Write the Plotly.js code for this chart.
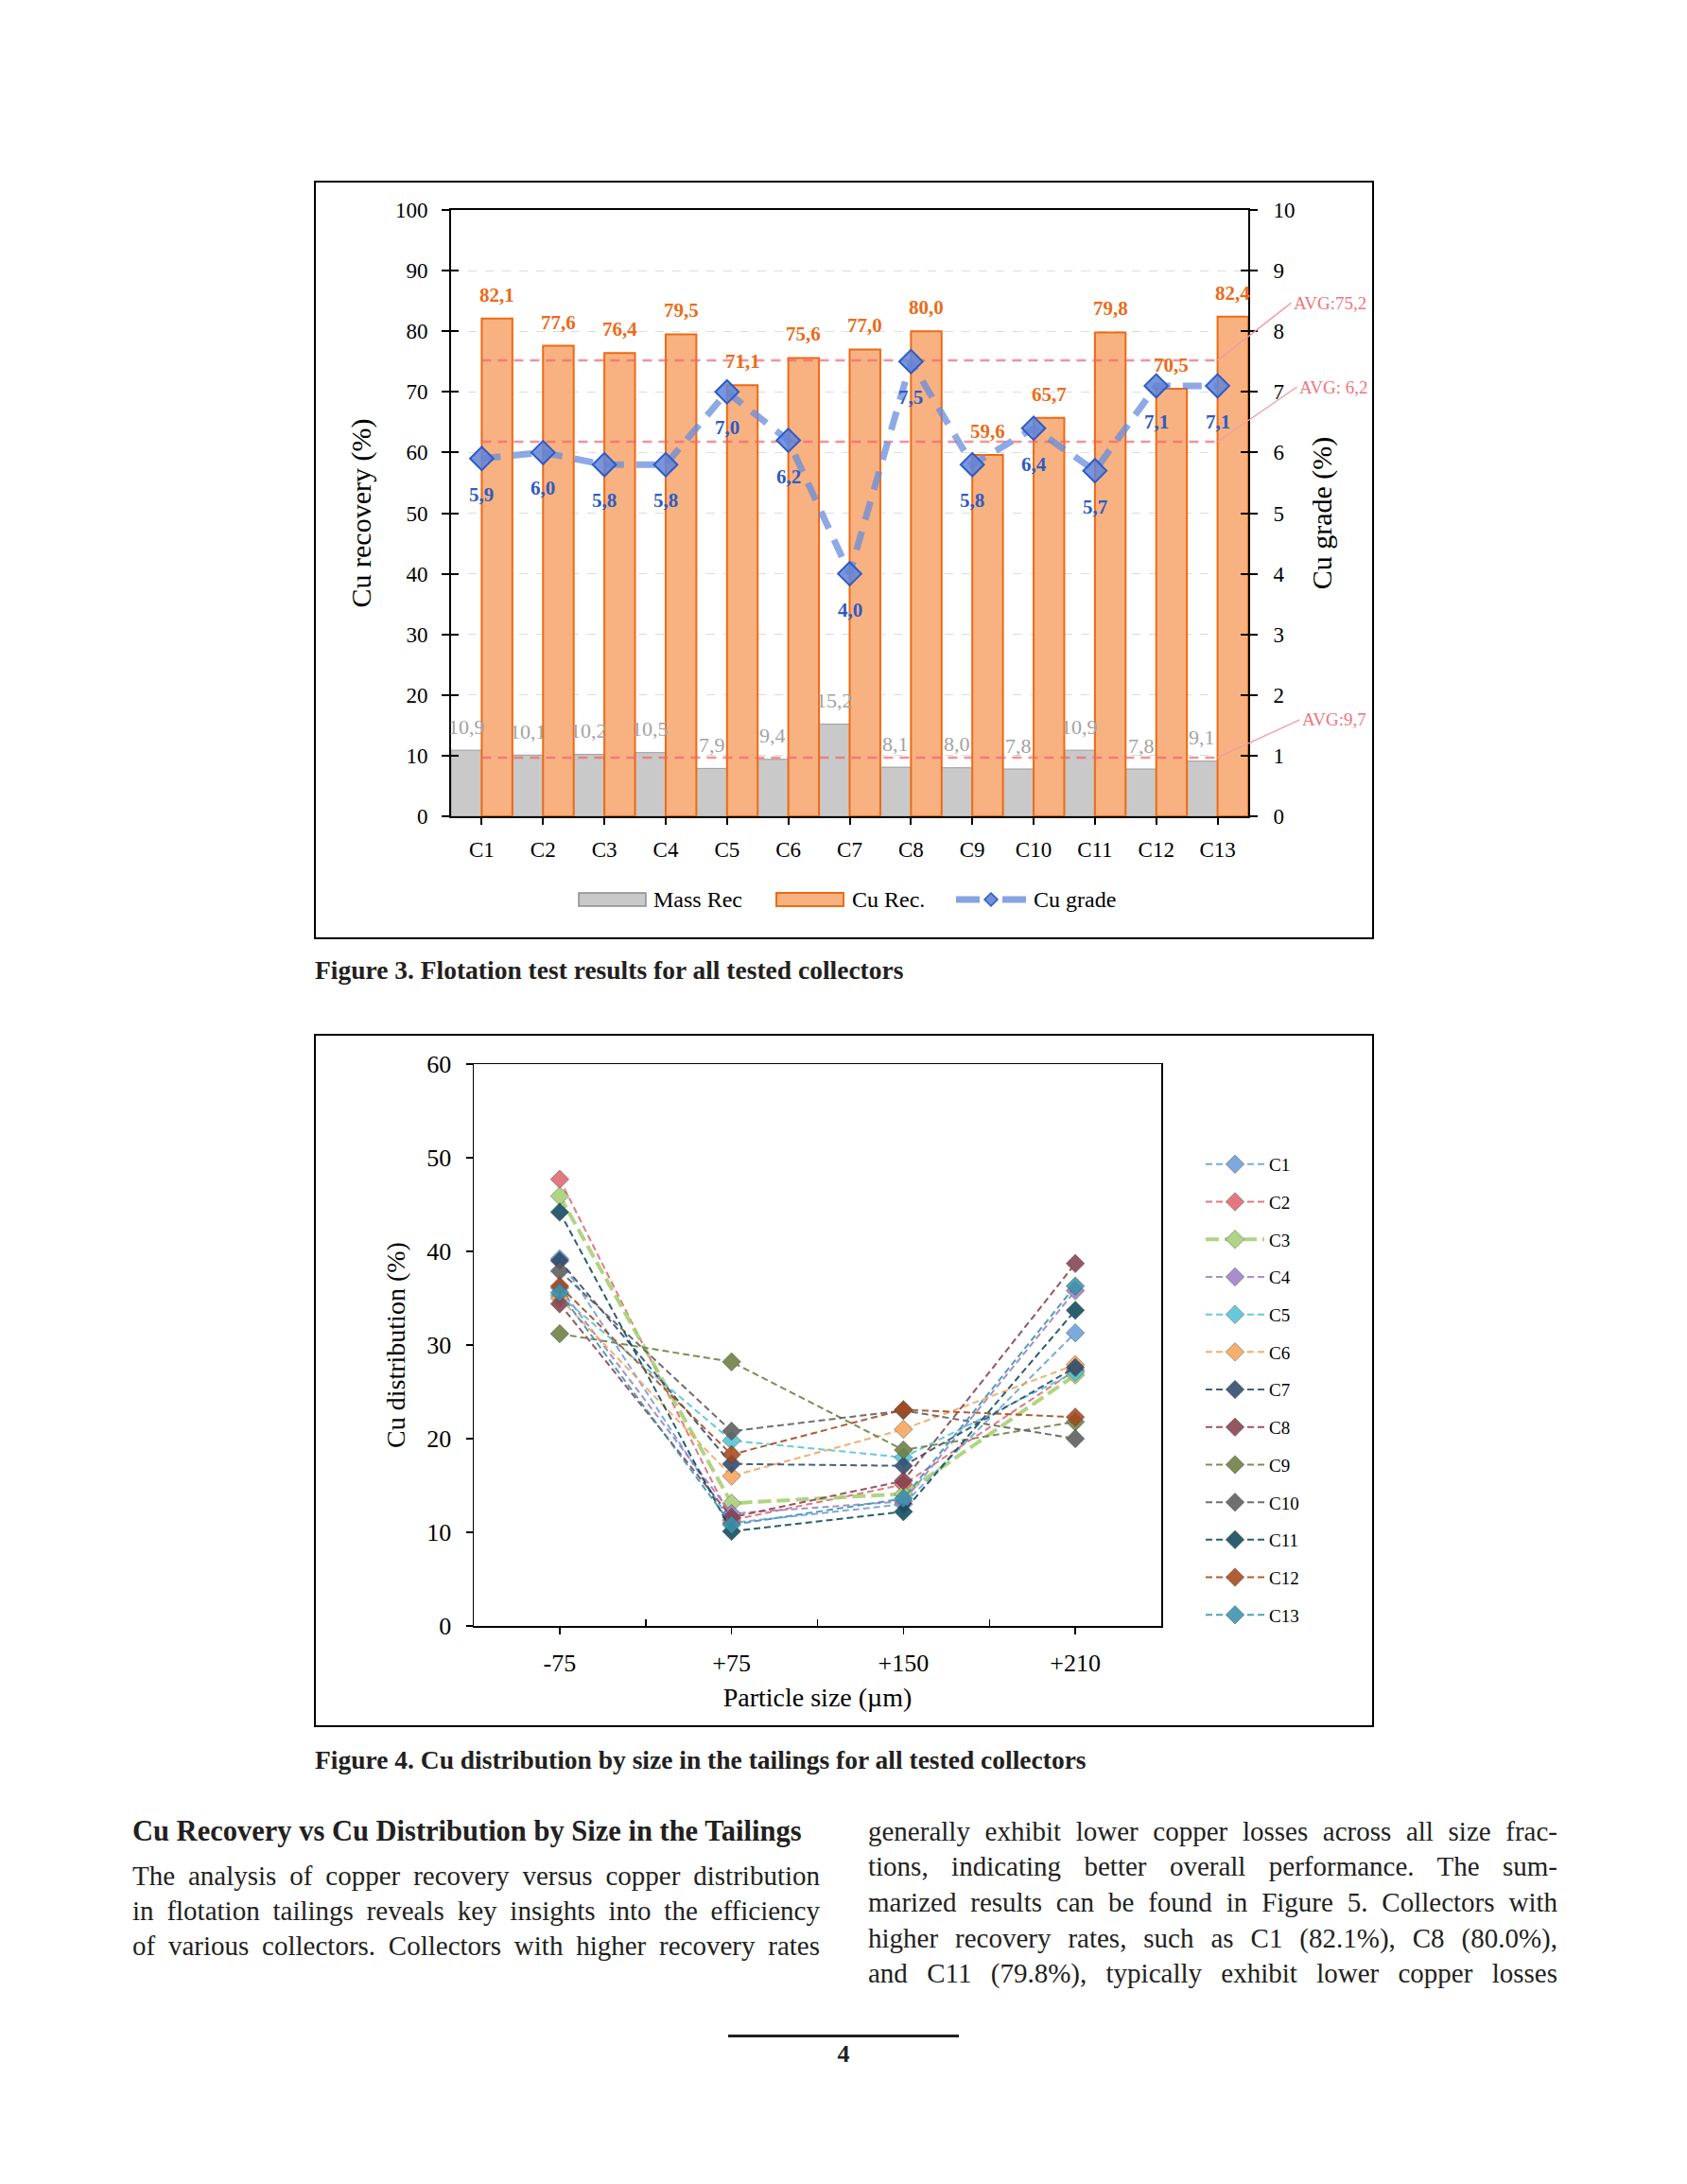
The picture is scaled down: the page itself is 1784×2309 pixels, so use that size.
<!DOCTYPE html>
<html><head><meta charset="utf-8">
<script src="https://cdn.plot.ly/plotly-3.0.1.min.js"></script>
<style>
html,body{margin:0;padding:0;background:#fff;}
#page{position:relative;width:1784px;height:2309px;overflow:hidden;background:#fff;}
#chart{position:absolute;left:0;top:0;width:1784px;height:2309px;}
.t{position:absolute;font-family:'Liberation Serif','Times New Roman',serif;color:#231f20;white-space:nowrap;}
.cap{font-weight:bold;font-size:27.5px;line-height:32px;}
.head{font-weight:bold;font-size:30.5px;line-height:36px;}
.body{font-size:29px;line-height:34px;text-align:justify;text-align-last:justify;white-space:normal;}
</style></head>
<body><div id="page"><div id="chart"></div>
<div class="t cap" style="left:333px;top:1010px;">Figure 3. Flotation test results for all tested collectors</div>
<div class="t cap" style="left:333px;top:1845px;">Figure 4. Cu distribution by size in the tailings for all tested collectors</div>
<div class="t head" style="left:140px;top:1918px;">Cu Recovery vs Cu Distribution by Size in the Tailings</div>
<div class="t body" style="left:140px;top:1966px;width:727px;">The analysis of copper recovery versus copper distribution</div>
<div class="t body" style="left:140px;top:2003px;width:727px;">in flotation tailings reveals key insights into the efficiency</div>
<div class="t body" style="left:140px;top:2040px;width:727px;">of various collectors. Collectors with higher recovery rates</div>
<div class="t body" style="left:918px;top:1919px;width:729px;">generally exhibit lower copper losses across all size frac-</div>
<div class="t body" style="left:918px;top:1956px;width:729px;">tions, indicating better overall performance. The sum-</div>
<div class="t body" style="left:918px;top:1994px;width:729px;">marized results can be found in Figure 5. Collectors with</div>
<div class="t body" style="left:918px;top:2032px;width:729px;">higher recovery rates, such as C1 (82.1%), C8 (80.0%),</div>
<div class="t body" style="left:918px;top:2069px;width:729px;">and C11 (79.8%), typically exhibit lower copper losses</div>
<div style="position:absolute;left:770px;top:2151px;width:244px;height:3px;background:#231f20;"></div>
<div class="t" style="left:842px;top:2157px;width:100px;text-align:center;font-weight:bold;font-size:26px;line-height:30px;">4</div>
</div>
<script>
// ---------- Figure 3 data ----------
const collectors = ['C1','C2','C3','C4','C5','C6','C7','C8','C9','C10','C11','C12','C13'];
const massRec = [10.9,10.1,10.2,10.5,7.9,9.4,15.2,8.1,8.0,7.8,10.9,7.8,9.1];
const cuRec   = [82.1,77.6,76.4,79.5,71.1,75.6,77.0,80.0,59.6,65.7,79.8,70.5,82.4];
const cuGrade = [5.9,6.0,5.8,5.8,7.0,6.2,4.0,7.5,5.8,6.4,5.7,7.1,7.1];
const recoveryTicks = [0,10,20,30,40,50,60,70,80,90,100];
const gradeTicks = [0,1,2,3,4,5,6,7,8,9,10];

// ---------- Figure 4 data ----------
const sizeFractions = ['-75','+75','+150','+210'];
const distC1  = [39.2, 11.0, 13.0, 31.3];
const distC2  = [47.7, 11.3, 15.1, 27.3];
const distC3  = [45.9, 13.1, 14.1, 26.8];
const distC4  = [36.1, 12.0, 13.3, 35.8];
const distC5  = [35.3, 19.8, 18.0, 27.1];
const distC6  = [35.0, 16.0, 21.0, 27.9];
const distC7  = [39.0, 17.3, 17.1, 27.6];
const distC8  = [34.4, 11.6, 15.5, 38.7];
const distC9  = [31.2, 28.2, 18.8, 21.8];
const distC10 = [37.9, 20.8, 23.0, 20.0];
const distC11 = [44.2, 10.1, 12.2, 33.7];
const distC12 = [36.3, 18.3, 23.1, 22.3];
const distC13 = [35.6, 10.8, 13.6, 36.3];
const distTicks = [0,10,20,30,40,50,60];

const distSeries = [distC1,distC2,distC3,distC4,distC5,distC6,distC7,distC8,distC9,distC10,distC11,distC12,distC13];
const distColors = ['#6A9FD8','#E0666F','#A6CF73','#9A80C6','#55C2D6','#F6A45C','#2D4A6E','#86404F','#6D7E40','#5C5C5C','#0E4A5C','#A4481B','#3A92AD'];

// ---------- geometry helpers ----------
const W = 1784, H = 2309;
const PX = x => x / W, PY = y => 1 - y / H;
const FONT = "'Liberation Serif','Times New Roman',serif";
const F1 = {l:477, r:1320, t:222, b:863};
const F2 = {l:501, r:1228, t:1125, b:1719};
const fmt = v => v.toFixed(1).replace('.', ',');
const mean = a => a.reduce((s, v) => s + v, 0) / a.length;
const halfBar = (F1.r - F1.l) / collectors.length / 4;

const avgRec = mean(cuRec), avgMass = mean(massRec), avgGrade = mean(cuGrade);
const lastCat = collectors[collectors.length - 1];

// ---------- traces ----------
const traces = [];
traces.push({type:'bar', x:collectors, y:massRec, name:'Mass Rec', xaxis:'x', yaxis:'y',
  marker:{color:'#C9C9C9', line:{color:'#9C9C9C', width:1}}, showlegend:false});
traces.push({type:'bar', x:collectors, y:cuRec, name:'Cu Rec.', xaxis:'x', yaxis:'y',
  marker:{color:'#F8B281', line:{color:'#EE6A14', width:2}}, showlegend:false});
const avgLine = (v, ax) => ({type:'scatter', mode:'lines', x:[collectors[0], lastCat], y:[v, v],
  xaxis:'x', yaxis:ax, line:{color:'rgba(241,100,108,0.7)', width:2.5, dash:'10px,7px'},
  showlegend:false});
traces.push(avgLine(avgRec, 'y'));
traces.push(avgLine(avgMass, 'y'));
traces.push(avgLine(avgGrade, 'y2'));
traces.push({type:'scatter', mode:'lines+markers', x:collectors, y:cuGrade, name:'Cu grade',
  xaxis:'x', yaxis:'y2', showlegend:false,
  line:{color:'rgba(104,140,220,0.75)', width:7, dash:'20px,13px'},
  marker:{symbol:'diamond', size:19, color:'rgba(98,132,214,0.85)', line:{color:'#2C5BC8', width:2}}});
traces.push({type:'scatter', x:[], y:[], xaxis:'x', yaxis:'y3', showlegend:false});
traces.push({type:'scatter', x:[], y:[], xaxis:'x', yaxis:'y4', showlegend:false});

collectors.forEach((name, i) => {
  const thick = (i === 2);
  traces.push({type:'scatter', mode:'lines+markers', name:name,
    x: sizeFractions.map((_, k) => k), y: distSeries[i],
    xaxis:'x2', yaxis:'y5', legendgroup:'g' + i, opacity:0.88,
    line:{color:distColors[i], width: thick ? 4 : 2, dash: thick ? '14px,6px' : '7px,4px'},
    marker:{symbol:'diamond', size:15, color:distColors[i], line:{color:'rgba(60,60,60,0.5)', width:1}}});
});

// ---------- annotations ----------
const ann = [];
collectors.forEach((c, i) => {
  ann.push({x:c, y:cuRec[i], xref:'x', yref:'y', xshift:halfBar, yshift:25, showarrow:false,
    text:'<b>' + fmt(cuRec[i]) + '</b>', font:{family:FONT, size:21, color:'#EA6C1A'}});
  ann.push({x:c, y:massRec[i], xref:'x', yref:'y', xshift:-halfBar, yshift:25, showarrow:false,
    text:fmt(massRec[i]), font:{family:FONT, size:22, color:'#A3A3A3'}});
  ann.push({x:c, y:cuGrade[i], xref:'x', yref:'y2', yshift:-38, showarrow:false,
    text:'<b>' + fmt(cuGrade[i]) + '</b>', font:{family:FONT, size:21, color:'#2E5CC2'}});
});
const avgAnn = (v, ax, label, dx, dy) => ({x:lastCat, y:v, xref:'x', yref:ax, showarrow:true,
  arrowhead:0, arrowwidth:1.3, arrowcolor:'#F49AA2', ax:dx, ay:dy, xanchor:'left', yanchor:'middle',
  text:label, font:{family:FONT, size:19, color:'#EE7680'}});
ann.push(avgAnn(avgRec, 'y', 'AVG:' + fmt(avgRec), 78, -61));
ann.push(avgAnn(avgGrade, 'y2', 'AVG: ' + fmt(avgGrade), 84, -58));
ann.push(avgAnn(avgMass, 'y', 'AVG:' + fmt(avgMass), 87, -40));

// custom legend (figure 3)
const legY = 951;
const legFont = {family:FONT, size:24, color:'#000'};
ann.push({x:PX(689), y:PY(legY), xref:'paper', yref:'paper', xanchor:'left', yanchor:'middle', showarrow:false, text:'Mass Rec', font:legFont});
ann.push({x:PX(899), y:PY(legY), xref:'paper', yref:'paper', xanchor:'left', yanchor:'middle', showarrow:false, text:'Cu Rec.', font:legFont});
ann.push({x:PX(1091), y:PY(legY), xref:'paper', yref:'paper', xanchor:'left', yanchor:'middle', showarrow:false, text:'Cu grade', font:legFont});

// ---------- shapes ----------
const gradeLegLine = {color:'rgba(104,140,220,0.8)', width:7};
const shapes = [
  {type:'rect', xref:'paper', yref:'paper', x0:PX(333), x1:PX(1452), y0:PY(192), y1:PY(992), line:{color:'#000', width:2}},
  {type:'rect', xref:'paper', yref:'paper', x0:PX(333), x1:PX(1452), y0:PY(1094), y1:PY(1825), line:{color:'#000', width:2}},
  {type:'rect', xref:'paper', yref:'paper', x0:PX(612), x1:PX(683), y0:PY(958), y1:PY(944), fillcolor:'#C9C9C9', line:{color:'#8C8C8C', width:1.5}},
  {type:'rect', xref:'paper', yref:'paper', x0:PX(821), x1:PX(892), y0:PY(958), y1:PY(944), fillcolor:'#F8B281', line:{color:'#EE6A14', width:2}},
  {type:'line', xref:'paper', yref:'paper', x0:PX(1011), x1:PX(1036), y0:PY(legY), y1:PY(legY), line:gradeLegLine},
  {type:'line', xref:'paper', yref:'paper', x0:PX(1060), x1:PX(1085), y0:PY(legY), y1:PY(legY), line:gradeLegLine},
  {type:'path', xref:'paper', yref:'paper',
    path:'M ' + PX(1041) + ' ' + PY(legY) + ' L ' + PX(1048) + ' ' + PY(legY - 7) + ' L ' + PX(1055) + ' ' + PY(legY) + ' L ' + PX(1048) + ' ' + PY(legY + 7) + ' Z',
    fillcolor:'rgba(98,132,214,0.9)', line:{color:'#2C5BC8', width:1.5}}
];

const axBase = {showline:true, linecolor:'#000', linewidth:2, tickcolor:'#000', tickwidth:2,
  tickfont:{family:FONT, size:23, color:'#000'}, zeroline:false, fixedrange:true};

const layout = {
  width:W, height:H, margin:{l:0, r:0, t:0, b:0},
  paper_bgcolor:'#fff', plot_bgcolor:'rgba(0,0,0,0)',
  font:{family:FONT, color:'#000'},
  barmode:'group', bargap:0, bargroupgap:0, hovermode:false,
  showlegend:true,
  legend:{x:PX(1270), y:PY(1212), xanchor:'left', yanchor:'top', bgcolor:'rgba(0,0,0,0)',
    font:{family:FONT, size:19, color:'#000'}, itemwidth:62, tracegroupgap:12, traceorder:'grouped'},
  xaxis:Object.assign({}, axBase, {domain:[PX(F1.l), PX(F1.r)], anchor:'y', type:'category',
    categoryarray:collectors, categoryorder:'array', range:[-0.5, collectors.length - 0.5],
    mirror:true, ticks:'outside', ticklen:7, ticklabelstandoff:6, showgrid:false}),
  yaxis:Object.assign({}, axBase, {domain:[PY(F1.b), PY(F1.t)], anchor:'x', range:[0, 100],
    tickvals:recoveryTicks, ticks:'outside', ticklen:8, ticklabelstandoff:10,
    showgrid:true, gridcolor:'#DCDCDC', gridwidth:1, griddash:'dash',
    title:{text:'Cu recovery (%)', font:{family:FONT, size:30, color:'#000'}, standoff:16}}),
  yaxis2:Object.assign({}, axBase, {overlaying:'y', anchor:'x', side:'right', range:[0, 10],
    tickvals:gradeTicks, ticks:'outside', ticklen:8, ticklabelstandoff:12, showgrid:false,
    title:{text:'Cu grade (%)', font:{family:FONT, size:30, color:'#000'}, standoff:18}}),
  yaxis3:{overlaying:'y', anchor:'x', range:[0, 100], tickvals:recoveryTicks, ticks:'inside', ticklen:8,
    tickwidth:2, tickcolor:'#000', showticklabels:false, showgrid:false, showline:false, zeroline:false, fixedrange:true},
  yaxis4:{overlaying:'y', anchor:'x', side:'right', range:[0, 10], tickvals:gradeTicks, ticks:'inside', ticklen:8,
    tickwidth:2, tickcolor:'#000', showticklabels:false, showgrid:false, showline:false, zeroline:false, fixedrange:true},
  xaxis2:Object.assign({}, axBase, {domain:[PX(F2.l), PX(F2.r)], anchor:'y5', type:'linear',
    range:[-0.5, sizeFractions.length - 0.5], tickvals:sizeFractions.map((_, k) => k), ticktext:sizeFractions,
    tickfont:{family:FONT, size:26, color:'#000'},
    linewidth:1.5, tickwidth:1.5, mirror:true, ticks:'outside', ticklen:7, ticklabelstandoff:8, showgrid:false,
    minor:{tickvals:sizeFractions.slice(1).map((_, k) => k + 0.5), ticks:'inside', ticklen:7, tickwidth:1.5, tickcolor:'#000', showgrid:false},
    title:{text:'Particle size (µm)', font:{family:FONT, size:28, color:'#000'}, standoff:12}}),
  yaxis5:Object.assign({}, axBase, {domain:[PY(F2.b), PY(F2.t)], anchor:'x2', range:[0, 60],
    tickvals:distTicks, tickfont:{family:FONT, size:26, color:'#000'},
    linewidth:1.5, tickwidth:1.5, mirror:true, ticks:'outside', ticklen:7,
    ticklabelstandoff:10, showgrid:false,
    title:{text:'Cu distribution (%)', font:{family:FONT, size:28, color:'#000'}, standoff:14}}),
  shapes:shapes,
  annotations:ann
};

Plotly.newPlot('chart', traces, layout, {displayModeBar:false, staticPlot:true});
</script>
</body></html>
